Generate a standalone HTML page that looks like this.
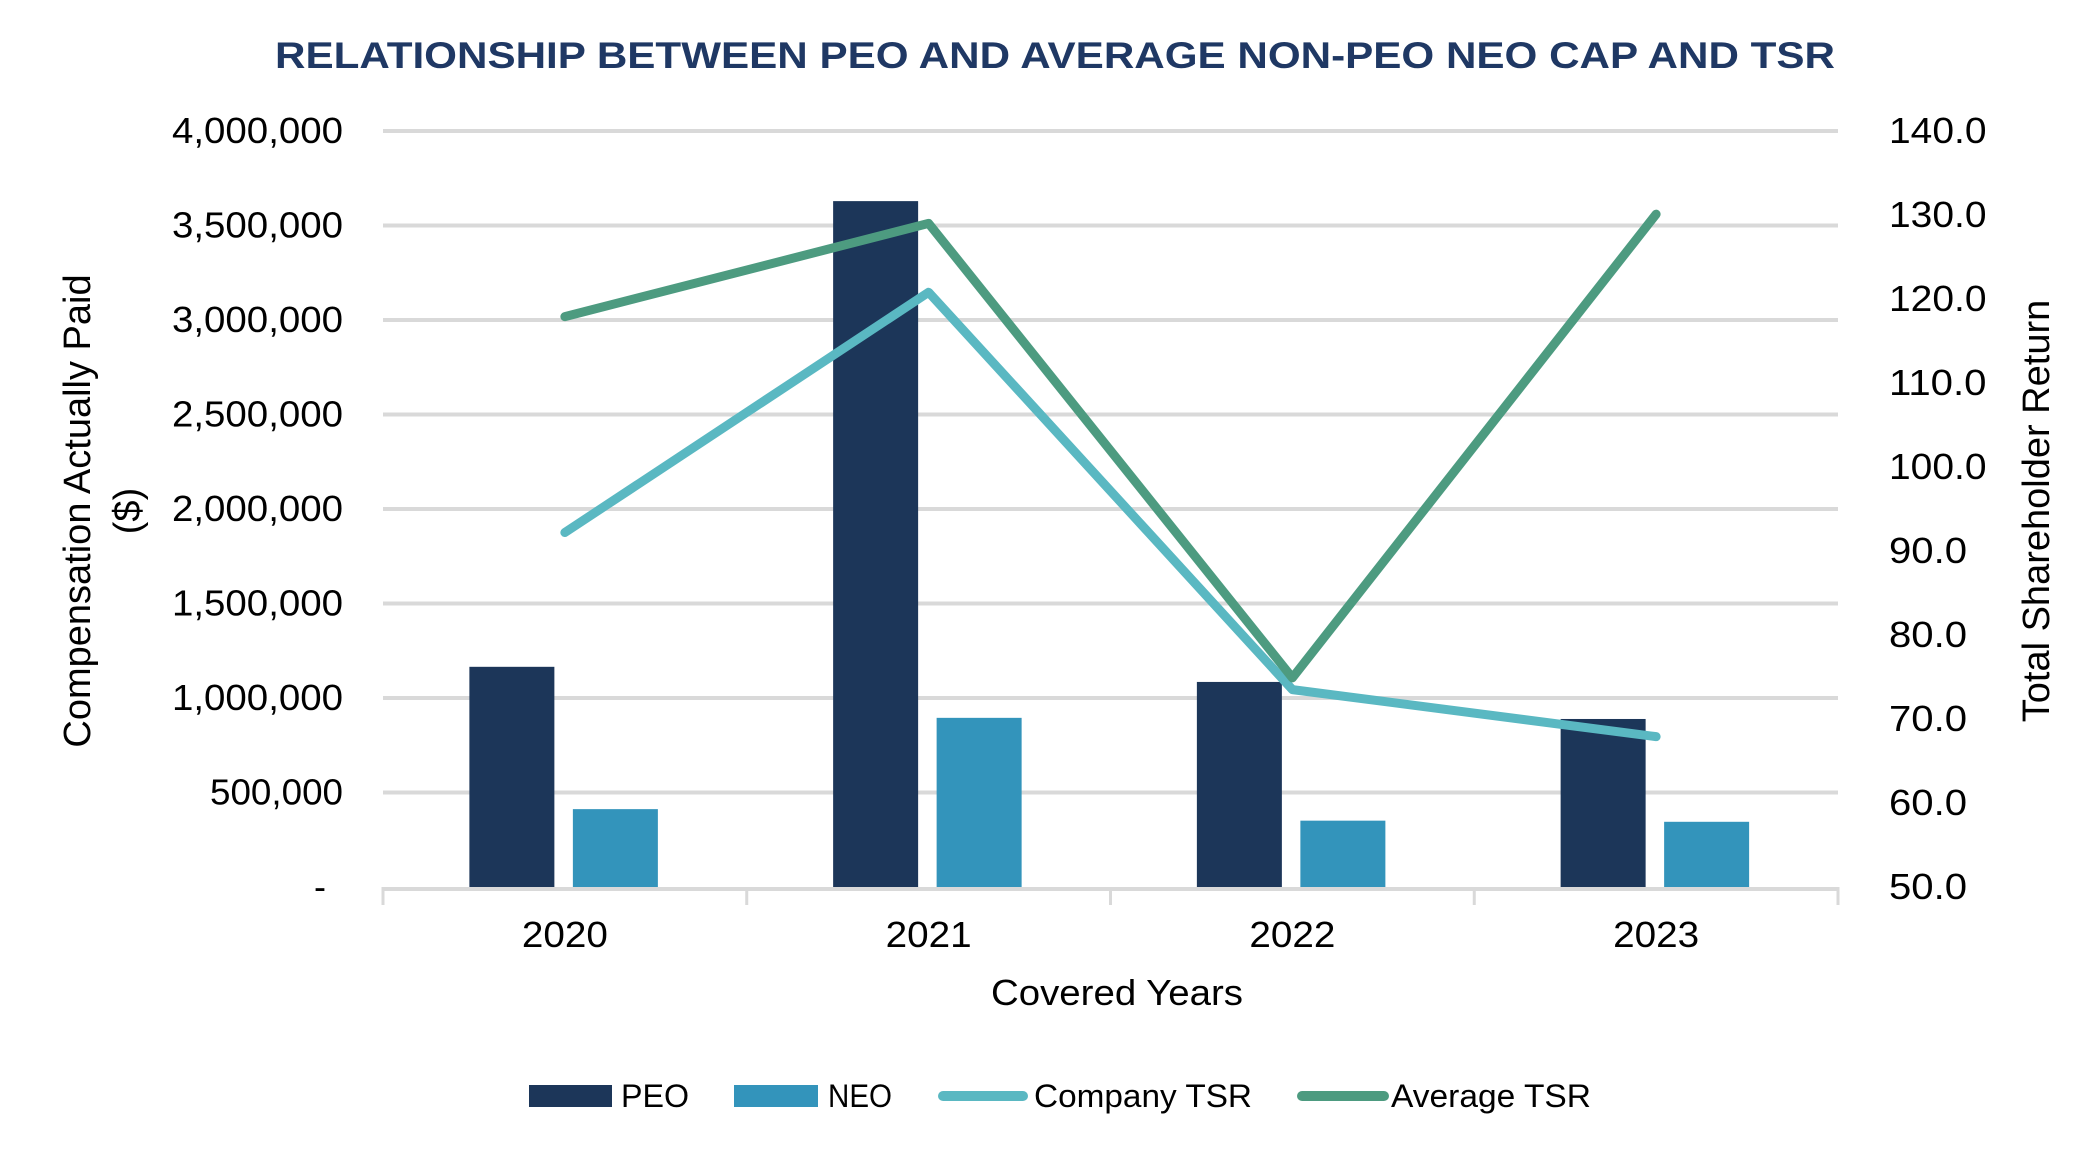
<!DOCTYPE html>
<html><head><meta charset="utf-8"><style>
html,body{margin:0;padding:0;background:#fff;}
svg{display:block;}
text{font-family:"Liberation Sans Narrow","Liberation Sans",sans-serif;fill:#000;}
.axt{font-family:"Liberation Sans",sans-serif;}
</style></head><body>
<svg id="chart" width="2100" height="1155" viewBox="0 0 2100 1155">
<text x="1055" y="68" text-anchor="middle" textLength="1560" lengthAdjust="spacingAndGlyphs" style="font-family:'Liberation Sans',sans-serif;font-weight:bold;font-size:37px;fill:#1f3864">RELATIONSHIP BETWEEN PEO AND AVERAGE NON-PEO NEO CAP AND TSR</text>
<g id="grid"></g><g id="bars"></g><g id="lines"></g><g id="axes"></g>
<text class="axt" transform="translate(90,511) rotate(-90)" text-anchor="middle" style="font-size:38px">Compensation Actually Paid</text>
<text class="axt" transform="translate(140,511) rotate(-90)" text-anchor="middle" style="font-size:38px">($)</text>
<text class="axt" transform="translate(2049,511) rotate(-90)" text-anchor="middle" style="font-size:38px">Total Shareholder Return</text>
<text x="1117" y="1005" text-anchor="middle" textLength="252" lengthAdjust="spacingAndGlyphs" style="font-size:36px">Covered Years</text>
<g>
<rect x="529" y="1085" width="83" height="22" fill="#1c3659"/>
<text x="621" y="1107" textLength="68" lengthAdjust="spacingAndGlyphs" style="font-size:32px">PEO</text>
<rect x="734" y="1085" width="84" height="22" fill="#3394bb"/>
<text x="828" y="1107" textLength="64" lengthAdjust="spacingAndGlyphs" style="font-size:32px">NEO</text>
<line x1="943" y1="1096" x2="1023" y2="1096" stroke="#5ab8c2" stroke-width="10" stroke-linecap="round"/>
<text x="1034" y="1107" textLength="218" lengthAdjust="spacingAndGlyphs" style="font-size:32px">Company TSR</text>
<line x1="1302" y1="1096" x2="1384" y2="1096" stroke="#4d9b80" stroke-width="10" stroke-linecap="round"/>
<text x="1391" y="1107" textLength="200" lengthAdjust="spacingAndGlyphs" style="font-size:32px">Average TSR</text>
</g>
</svg>
<script>
const years = ["2020","2021","2022","2023"];
const peo = [1165000, 3629000, 1085000, 889000];
const neo = [412000, 895000, 351000, 345000];
const companyTsr = [92.2, 120.8, 73.5, 67.9];
const averageTsr = [117.9, 129.0, 74.9, 130.1];
const leftTicks = [0,500000,1000000,1500000,2000000,2500000,3000000,3500000,4000000];
const leftTickLabels = ["-","500,000","1,000,000","1,500,000","2,000,000","2,500,000","3,000,000","3,500,000","4,000,000"];
const rightTicks = [50,60,70,80,90,100,110,120,130,140];
const rightTickLabels = ["50.0","60.0","70.0","80.0","90.0","100.0","110.0","120.0","130.0","140.0"];

const NS="http://www.w3.org/2000/svg";
const X0=383, X1=1838, Y0=887, Y1=131;
const catW=(X1-X0)/years.length;
function xc(i){return X0+catW*(i+0.5);}
function yL(v){return Y0-(v/4000000)*(Y0-Y1);}
function yR(v){return Y0-((v-50)/90)*(Y0-Y1);}
function mk(tag,attrs,parent){const e=document.createElementNS(NS,tag);for(const k in attrs)e.setAttribute(k,attrs[k]);parent.appendChild(e);return e;}
const grid=document.getElementById('grid'),bars=document.getElementById('bars'),lines=document.getElementById('lines'),axes=document.getElementById('axes');

leftTicks.forEach((t,i)=>{
  if(i>0){const g=mk('line',{x1:X0,x2:X1,y1:yL(t),y2:yL(t),stroke:'#d9d9d9','stroke-width':4},grid);
  
  }
  const lbl=leftTickLabels[i];
  const tx=mk('text',{x:i===0?326:343,y:yL(t)+12,'text-anchor':'end','font-size':36},axes);
  if(lbl.length>1){tx.setAttribute('textLength',lbl.length*19);tx.setAttribute('lengthAdjust','spacingAndGlyphs');}
  tx.textContent=lbl;
  
  
});
rightTicks.forEach((t,i)=>{
  const lbl=rightTickLabels[i];
  const tx=mk('text',{x:1889,y:yR(t)+12,'font-size':36,textLength:lbl.length*19.5,lengthAdjust:'spacingAndGlyphs'},axes);
  tx.textContent=lbl;
  
  
});
const ax=mk('line',{x1:X0,x2:X1,y1:Y0+2,y2:Y0+2,stroke:'#d9d9d9','stroke-width':4},axes);


for(let i=0;i<=years.length;i++){
  const tk=mk('line',{x1:X0+catW*i,x2:X0+catW*i,y1:Y0,y2:Y0+18,stroke:'#d9d9d9','stroke-width':3},axes);
  
  
}
years.forEach((yv,i)=>{
  const tx=mk('text',{x:xc(i),y:947,'text-anchor':'middle','font-size':36,textLength:86,lengthAdjust:'spacingAndGlyphs'},axes);
  tx.textContent=yv;
  
  
  const b1=mk('rect',{x:xc(i)-95.5,y:yL(peo[i]),width:85,height:Y0-yL(peo[i]),fill:'#1c3659'},bars);
  
  
  const b2=mk('rect',{x:xc(i)+8,y:yL(neo[i]),width:85,height:Y0-yL(neo[i]),fill:'#3394bb'},bars);
  
  
});
function pts(arr){return arr.map((v,i)=>xc(i)+','+yR(v)).join(' ');}
const l1=mk('polyline',{points:pts(companyTsr),fill:'none',stroke:'#5ab8c2','stroke-width':9,'stroke-linejoin':'round','stroke-linecap':'round'},lines);


const l2=mk('polyline',{points:pts(averageTsr),fill:'none',stroke:'#4d9b80','stroke-width':9,'stroke-linejoin':'round','stroke-linecap':'round'},lines);


</script>
</body></html>
